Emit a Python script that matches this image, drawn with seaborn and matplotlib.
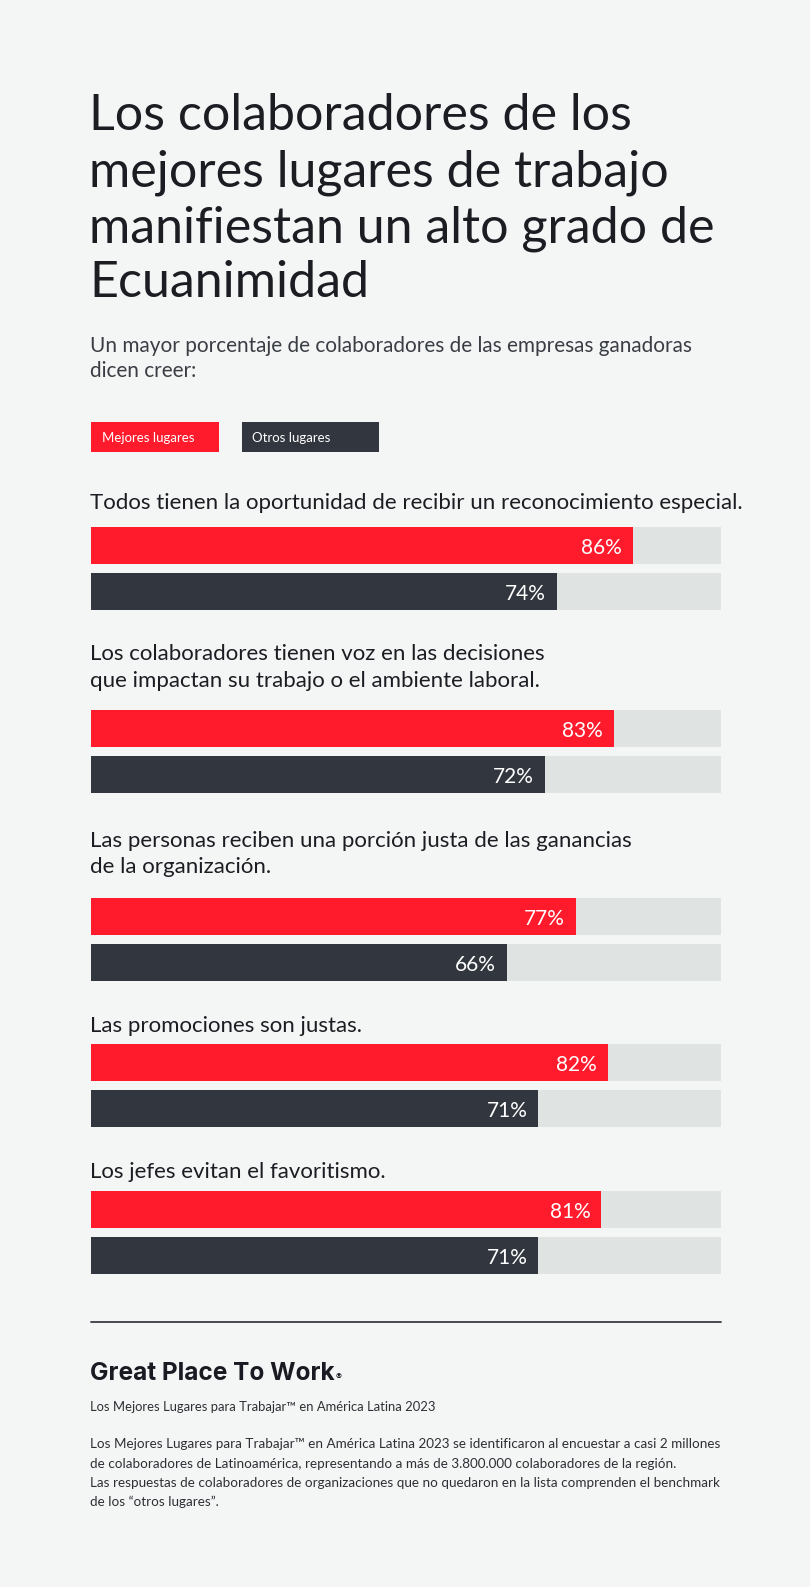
import matplotlib
matplotlib.use("Agg")
import matplotlib.pyplot as plt
import seaborn as sns
import pandas as pd
from matplotlib.patches import Rectangle
from matplotlib.lines import Line2D

# ---------------- data ----------------
preguntas = [
    "Todos tienen la oportunidad de recibir un reconocimiento especial.",
    "Los colaboradores tienen voz en las decisiones\nque impactan su trabajo o el ambiente laboral.",
    "Las personas reciben una porción justa de las ganancias\nde la organización.",
    "Las promociones son justas.",
    "Los jefes evitan el favoritismo.",
]
series = ["Mejores lugares", "Otros lugares"]
mejores = [86, 83, 77, 82, 81]
otros = [74, 72, 66, 71, 71]

titulo = ["Los colaboradores de los", "mejores lugares de trabajo",
          "manifiestan un alto grado de", "Ecuanimidad"]
subtitulo = ["Un mayor porcentaje de colaboradores de las empresas ganadoras",
             "dicen creer:"]
marca = "Great Place To Work"
fuente = "Los Mejores Lugares para Trabajar\u2122 en América Latina 2023"
nota = [
    "Los Mejores Lugares para Trabajar\u2122 en América Latina 2023 se identificaron al encuestar a casi 2 millones",
    "de colaboradores de Latinoamérica, representando a más de 3.800.000 colaboradores de la región.",
    "Las respuestas de colaboradores de organizaciones que no quedaron en la lista comprenden el benchmark",
    "de los \u201cotros lugares\u201d.",
]

# ---------------- style ----------------
W, H = 810, 1587
BG = "#F4F6F5"
RED = "#FF1A2C"
DARK = "#32363F"
TRACK = "#DFE3E2"
TXT = "#1C1D23"
GRAY = "#3A3D44"

sns.set_theme(style="white")
plt.rcParams["font.family"] = ["Lato", "DejaVu Sans"]

fig = plt.figure(figsize=(W / 100, H / 100), dpi=100, facecolor=BG)
renderer = fig.canvas.get_renderer()


def fx(x):
    return x / W


def fy(y):
    return 1 - y / H


def fitted_group(lines, ys, x, ref_idx, target_w, size0, **kw):
    """Draw lines; scale font so reference line reaches target width."""
    t = fig.text(fx(x), fy(ys[ref_idx]), lines[ref_idx], fontsize=size0, **kw)
    w = t.get_window_extent(renderer).width
    size = size0 * target_w / w
    t.remove()
    out = []
    for s, y in zip(lines, ys):
        out.append(fig.text(fx(x), fy(y), s, fontsize=size, va="baseline", ha="left", **kw))
    return out


# title
fitted_group(titulo, [130, 186, 242, 297], 89, 2, 626, 38, color=TXT)
# subtitle
fitted_group(subtitulo, [352, 377], 90, 0, 606, 14, color=GRAY)

# legend boxes
leg = [(91, 219, RED, series[0], 102), (242, 379, DARK, series[1], 252)]
for x0, x1, col, lab, tx in leg:
    fig.add_artist(Rectangle((fx(x0), fy(452)), (x1 - x0) / W, 30 / H,
                             transform=fig.transFigure, color=col, lw=0))
    fig.text(fx(tx), fy(442), lab, color="white", fontsize=9.5, va="baseline")

# question texts
q_lines = []
q_ys = []
for q, ys in zip(preguntas, [[509], [660, 687], [847, 873], [1032], [1178]]):
    for s, y in zip(q.split("\n"), ys):
        q_lines.append(s)
        q_ys.append(y)
fitted_group(q_lines, q_ys, 90, 0, 654, 16, color=TXT)

# bars
block_tops = [526.5, 709.8, 898.0, 1043.9, 1190.7]
pitch = 46.5
bar_h = 37.0
wfrac = bar_h / pitch
ax_h = (1 + wfrac) * pitch
x_left, x_right = 91, 721

for i, top in enumerate(block_tops):
    ax = fig.add_axes([fx(x_left), fy(top + ax_h), (x_right - x_left) / W, ax_h / H])
    ax.set_facecolor("none")
    df = pd.DataFrame({"serie": series, "valor": [mejores[i], otros[i]]})
    sns.barplot(data=df, x=[100, 100], y="serie", color=TRACK, width=wfrac,
                ax=ax, order=series, orient="h", saturation=1, linewidth=0)
    sns.barplot(data=df, x="valor", y="serie", hue="serie", order=series,
                hue_order=series, palette=[RED, DARK], width=wfrac, ax=ax,
                orient="h", saturation=1, legend=False, dodge=False, linewidth=0)
    ax.set_xlim(0, 100)
    ax.set_ylim(1 + wfrac / 2, -wfrac / 2)
    ax.axis("off")
    for j, v in enumerate([mejores[i], otros[i]]):
        ax.annotate(f"{v}%", xy=(v, j), xytext=(-11, -0.5), textcoords="offset pixels",
                    ha="right", va="center_baseline", color="white",
                    fontsize=15, fontweight="normal")

# footer rule
fig.add_artist(Line2D([fx(91), fx(721)], [fy(1322), fy(1322)],
                      transform=fig.transFigure, color="#3A3C42", lw=1.3))

# brand
t = fig.text(fx(90), fy(1380), marca, fontsize=18, fontweight="bold",
             family=["Inter", "DejaVu Sans"], color="#1A1B22", va="baseline")
w = t.get_window_extent(renderer).width
t.set_fontsize(18 * 245 / w)
fig.text(fx(336), fy(1380), "\u00ae", fontsize=6.5, fontweight="bold",
         family=["Inter", "DejaVu Sans"], color="#1A1B22", va="baseline")

fitted_group([fuente], [1411], 90, 0, 347, 9.5, color="#2D2F35")
fitted_group(nota, [1448, 1467.5, 1487, 1506.5], 90, 0, 631, 9.5, color="#2D2F35")

fig.savefig("out.png", dpi=100, facecolor=BG)
